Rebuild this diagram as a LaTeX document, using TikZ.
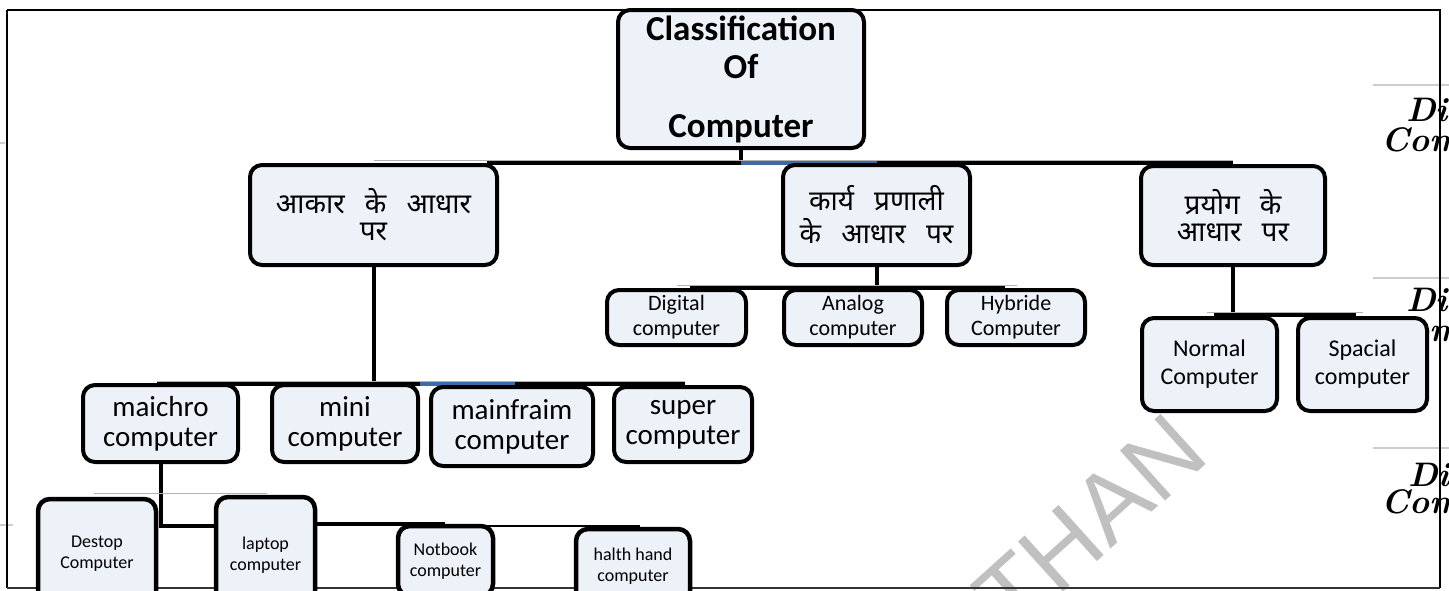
\documentclass[tikz,border=0pt]{standalone}
\usepackage{fontspec}
\usetikzlibrary{backgrounds}
\newfontfamily\calfont{Carlito}
\newfontfamily\devfont[Script=Devanagari]{Noto Sans}
\newfontfamily\wmfont{Liberation Sans}
\newcommand\devwide{\spaceskip=0.72em\relax}
\definecolor{boxfill}{RGB}{237,241,248}
\definecolor{busblue}{RGB}{62,106,168}
\definecolor{wmgrey}{RGB}{192,192,192}
\definecolor{edgegrey}{RGB}{205,205,205}
\begin{document}
\begin{tikzpicture}[x=1pt,y=-1pt,
  box/.style={draw=black, line width=4pt, fill=boxfill, rounded corners=12pt, align=center, inner sep=0pt},
  rootbox/.style={box, font=\calfont\bfseries\fontsize{35}{38}\selectfont},
  hbox/.style={box, font=\devfont\fontsize{28}{27}\selectfont\devwide},
  lvtwo/.style={box, font=\calfont\fontsize{22}{25}\selectfont},
  lvtwobig/.style={box, font=\calfont\fontsize{24}{28}\selectfont},
  lvthree/.style={box, font=\calfont\fontsize{29}{30}\selectfont},
  lvfour/.style={box, line width=4.5pt, font=\calfont\fontsize{18}{21}\selectfont},
  bus/.style={line width=4pt, black},
  thinbus/.style={line width=1pt, gray!60},
  bluebus/.style={line width=4pt, busblue},
  edgemark/.style={line width=1.5pt, edgegrey},
  cursive/.style={anchor=base west, inner sep=0pt, font=\itshape\bfseries\fontsize{34}{34}\selectfont}
]
\useasboundingbox (0,0) rectangle (1449,590);
\clip (0,0) rectangle (1449,590);

% boxes
\node[rootbox, minimum width=246pt, minimum height=138pt] (root) at (741,79) {Classification\\Of\\[21pt]Computer};

\node[hbox, minimum width=247pt, minimum height=100pt] (size) at (373.5,215) {आकार के आधार\\पर};
\node[hbox, minimum width=187pt, minimum height=100pt] (work) at (876.5,215) {कार्य प्रणाली\\[6pt]के आधार पर};
\node[hbox, minimum width=184pt, minimum height=99pt] (use) at (1233,215.5) {प्रयोग के\\आधार पर};

\node[lvtwo, minimum width=139pt, minimum height=55pt] (dig) at (676.5,317.5) {Digital\\computer};
\node[lvtwo, minimum width=138pt, minimum height=55pt] (ana) at (853,317.5) {Analog\\computer};
\node[lvtwo, minimum width=138pt, minimum height=55pt] (hyb) at (1016,317.5) {Hybride\\Computer};

\node[lvtwobig, minimum width=135pt, minimum height=93pt] (nor) at (1209.5,364.5) {Normal\\Computer};
\node[lvtwobig, minimum width=129pt, minimum height=93pt] (spa) at (1362.5,364.5) {Spacial\\computer};

\node[lvthree, minimum width=155pt, minimum height=77pt] (mic) at (160.5,423.5) {maichro\\computer};
\node[lvthree, minimum width=146pt, minimum height=77pt] (min) at (345,423.5) {mini\\computer};
\node[lvthree, minimum width=162pt, minimum height=79pt] (mnf) at (512,426.5) {mainfraim\\computer};
\node[lvthree, minimum width=138pt, minimum height=75pt] (sup) at (683,424.5) {super\\computer};

\node[lvfour, minimum width=118pt, minimum height=109pt] (des) at (97,553.5) {Destop\\Computer};
\node[lvfour, minimum width=99pt, minimum height=116pt] (lap) at (265.5,555) {laptop\\computer};
\node[lvfour, minimum width=95pt, minimum height=70pt] (not) at (445.5,561) {Notbook\\computer};
\node[lvfour, minimum width=114pt, minimum height=74pt] (hal) at (633,566) {halth hand\\computer};

\begin{scope}[on background layer]
% watermark
\node[rotate=42, text=wmgrey, font=\wmfont\fontsize{98}{98}\selectfont] (wm) at (1090,523) {THAN};

% texts partly outside the frame on the right
\node[cursive] (c1a) at (1406,121) {Di};
\node[cursive] (c1b) at (1381,151) {Comp};
\node[cursive] (c2a) at (1406,311) {Di};
\node[cursive] (c2b) at (1381,341) {Compu};
\node[cursive] (c3a) at (1408,486) {Di};
\node[cursive] (c3b) at (1381,513) {Comp};

% marks outside the frame
\draw[edgemark] (0,143) -- (5,143);
\draw[edgemark] (0,525) -- (13,525);
\draw[edgemark] (1373,85) -- (1449,85);
\draw[edgemark] (1373,278) -- (1449,278);
\draw[edgemark] (1373,448) -- (1449,448);

% frame
\draw[line width=1.5pt, black] (7,10) -- (1440,10) -- (1440,588);
\draw[line width=1.5pt, black] (7,10) -- (7,588);
\draw[line width=1.5pt, black!80] (7,588) -- (1440,588);

% bus coordinates
\coordinate (bA) at (0,163);
\coordinate (bW) at (0,288);
\coordinate (bU) at (0,315);
\coordinate (bS) at (0,384);

% level 1
\draw[bus] (root.south) -- (root.south |- bA);
\draw[thinbus] (size.north |- 0,160) -- (use.north |- 0,160);
\draw[bus] (487,163) -- (use.north |- bA);
\draw[bluebus] (root.south |- bA) -- (877,163);

% work
\draw[bus] (work.south) -- (work.south |- bW);
\draw[thinbus] (677,285) -- (1017,285);
\draw[bus] (690,288) -- (1005,288);

% use
\draw[bus] (use.south) -- (use.south |- bU);
\draw[thinbus] (1207,312) -- (1363,312);
\draw[bus] (1214,315) -- (1356,315);

% size
\draw[bus] (size.south) -- (size.south |- bS);
\draw[thinbus] (157,381) -- (685,381);
\draw[bus] (157,384) -- (685,384);
\draw[bluebus] (420,384) -- (515,384);

% micro
\draw[bus] (mic.south) -- (mic.south |- 0,528);
\draw[bus] (mic.south |- 0,526) -- (lap.west |- 0,526);
\draw[bus] (lap.east |- 0,524) -- (445,524);
\draw[line width=2.5pt, black] (445,526) -- (640,526);
\draw[thinbus] (94,493) -- (267,493);
\end{scope}
\end{tikzpicture}
\end{document}
